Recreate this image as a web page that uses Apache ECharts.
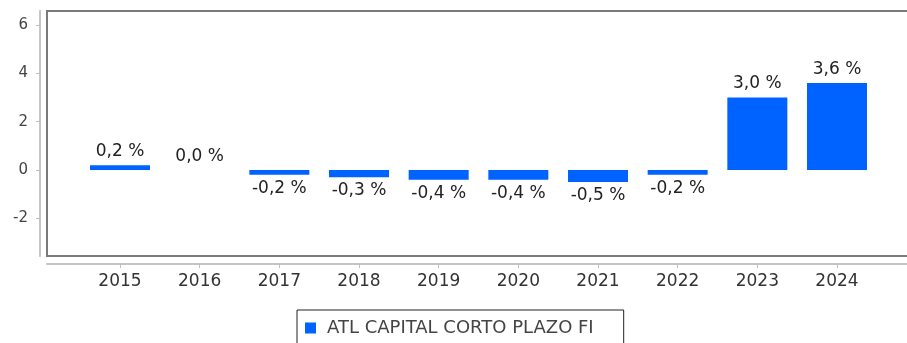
<!DOCTYPE html>
<html>
<head>
<meta charset="utf-8">
<script src="https://cdn.jsdelivr.net/npm/echarts@6/dist/echarts.min.js"></script>
<style>
  html, body { margin: 0; padding: 0; background: #fff; overflow: hidden; }
  /* the plot frame runs past the right edge of the window */
  #chart { width: 960px; height: 343px; }
</style>
</head>
<body>
<div id="chart"></div>
<script>
// Annual returns of the fund, in percent
const years = [2015, 2016, 2017, 2018, 2019, 2020, 2021, 2022, 2023, 2024];
const returns = [0.2, 0.0, -0.2, -0.3, -0.4, -0.4, -0.5, -0.2, 3.0, 3.6];
const yTicks = [-2, 0, 2, 4, 6];
const seriesName = 'ATL CAPITAL CORTO PLAZO FI';

const FONT = 'DejaVu Sans';
const fmtPct = v => v.toFixed(1).replace('.', ',') + ' %';

const chart = echarts.init(document.getElementById('chart'), null, { renderer: 'canvas' });

chart.setOption({
  animation: false,
  backgroundColor: '#ffffff',
  grid: {
    left: 47, top: 11, right: 10, bottom: 87,
    show: true,
    borderColor: '#7a7a7a',
    borderWidth: 2,
    backgroundColor: 'transparent'
  },
  legend: {
    data: [seriesName],
    left: 297,
    top: 310,
    padding: [9, 30, 20, 8],
    borderColor: '#222',
    borderWidth: 1,
    itemWidth: 11,
    itemHeight: 11,
    icon: 'rect',
    textStyle: { fontFamily: FONT, fontSize: 18, color: '#444', padding: [0, 0, 0, 6] }
  },
  xAxis: {
    type: 'value',
    min: 2014.0837,
    max: 2025.4184,
    offset: 8,
    splitLine: { show: false },
    axisLine: { show: true, onZero: false, lineStyle: { color: '#c4c4c4', width: 2 } },
    axisTick: { show: true, customValues: years, length: 4, lineStyle: { color: '#bdbdbd' } },
    axisLabel: {
      customValues: years,
      formatter: v => String(v),
      fontFamily: FONT, fontSize: 17, color: '#333', margin: 9
    }
  },
  yAxis: {
    type: 'value',
    min: -3.56,
    max: 6.58,
    offset: 7,
    splitLine: { show: false },
    axisLine: { show: true, onZero: false, lineStyle: { color: '#c4c4c4', width: 2 } },
    axisTick: { show: true, customValues: yTicks, length: 4, lineStyle: { color: '#bdbdbd' } },
    axisLabel: {
      customValues: yTicks,
      formatter: v => String(v),
      fontFamily: FONT, fontSize: 15, color: '#444', margin: 12
    }
  },
  series: [{
    name: seriesName,
    type: 'bar',
    barWidth: 60,
    data: years.map((y, i) => ({
      value: [y, returns[i]],
      label: { position: returns[i] >= 0 ? 'top' : 'bottom' }
    })),
    itemStyle: { color: '#0062ff' },
    label: {
      show: true,
      distance: 5,
      fontFamily: FONT,
      fontSize: 17,
      color: '#222',
      formatter: p => fmtPct(p.value[1])
    }
  }]
});
</script>
</body>
</html>
